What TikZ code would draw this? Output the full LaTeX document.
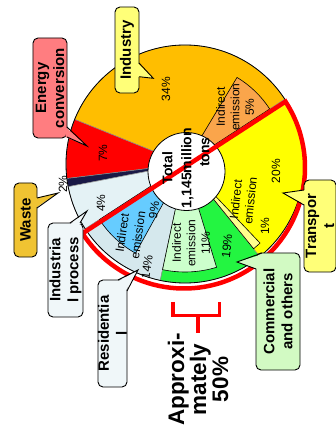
\documentclass[tikz,border=0pt]{standalone}
\usepackage{fontspec}
\setmainfont{Liberation Sans}
\usetikzlibrary{calc}
\definecolor{indOrange}{RGB}{255,190,0}
\definecolor{enRed}{RGB}{255,0,0}
\definecolor{wNavy}{RGB}{25,25,70}
\definecolor{procLight}{RGB}{228,242,245}
\definecolor{resBlue}{RGB}{213,232,237}
\definecolor{comGreen}{RGB}{35,245,65}
\definecolor{trYellow}{RGB}{255,255,0}
\definecolor{subOrange}{RGB}{250,165,75}
\definecolor{subBlue}{RGB}{102,204,255}
\definecolor{subGreen}{RGB}{204,255,204}
\definecolor{subYellow}{RGB}{255,255,140}
\definecolor{calYellow}{RGB}{255,255,120}
\definecolor{calPink}{RGB}{255,125,128}
\definecolor{calGold}{RGB}{240,195,50}
\definecolor{calPale}{RGB}{240,247,249}
\definecolor{calGreen}{RGB}{210,250,195}
\begin{document}
\begin{tikzpicture}[x=1bp,y=1bp,
  seg/.style={draw=black!45, line width=0.5bp},
  sub/.style={draw=black, line width=0.6bp},
  pct/.style={font=\fontsize{12bp}{14.5bp}\selectfont, rotate=#1, align=center, inner sep=0pt},
  pct/.default=90,
  tag/.style={draw=black, line width=0.9bp, rounded corners=5bp, rotate=90, align=center,
    inner sep=0pt, font=\bfseries\fontsize{15bp}{18bp}\selectfont},
  ptr/.style={draw=black, line width=0.9bp, line join=miter},
  redline/.style={draw=enRed, line width=#1},
]
\useasboundingbox (0,0) rectangle (336,429);

% ---- main pie ----
\coordinate (C) at (185,265);
\path[seg, fill=indOrange] (C) -- ++(33:119) arc[start angle=33, end angle=158, radius=119] -- cycle;
\path[seg, fill=enRed] (C) -- ++(158:119) arc[start angle=158, end angle=187, radius=119] -- cycle;
\path[seg, fill=wNavy] (C) -- ++(187:119) arc[start angle=187, end angle=191, radius=119] -- cycle;
\path[seg, fill=procLight] (C) -- ++(191:119) arc[start angle=191, end angle=213, radius=119] -- cycle;
\path[seg, fill=resBlue] (C) -- ++(213:119) arc[start angle=213, end angle=258, radius=119] -- cycle;
\path[seg, fill=comGreen] (C) -- ++(258:119) arc[start angle=258, end angle=309, radius=119] -- cycle;
\path[seg, fill=trYellow] (C) -- ++(309:119) arc[start angle=309, end angle=393, radius=119] -- cycle;
\draw[black, line width=0.8bp] (C) circle[radius=119];

% ---- indirect emission shares ----
\path[sub, fill=subOrange] (C) -- ++(33:101) arc[start angle=33, end angle=59, radius=101] -- cycle;
\path[sub, fill=subBlue] (C) -- ++(213:102) arc[start angle=213, end angle=241, radius=102] -- cycle;
\path[sub, fill=subGreen] (C) -- ++(258:108) arc[start angle=258, end angle=287, radius=108] -- cycle;
\path[sub, fill=subYellow] (C) -- ++(309:109) arc[start angle=309, end angle=313.5, radius=109] -- cycle;

% ---- centre disc ----
\draw[fill=white, line width=0.8bp] (186.5,257.5) ellipse[x radius=38.5, y radius=39];

% ---- half outline ----
\coordinate (R0) at (184,261.5);
\draw[redline=4.5bp, line join=miter] ($(R0)+(213:121)$) -- ($(R0)+(33:121)$) arc[start angle=33, end angle=-147, radius=121] -- cycle;

% ---- total ----
\node[rotate=90, align=center, inner sep=0pt, font=\bfseries\fontsize{14bp}{19bp}\selectfont] (total) at (178,261) {Total\\1,145million};
\node[rotate=90, inner sep=0pt, font=\bfseries\fontsize{14bp}{19bp}\selectfont] (tons) at (205,277) {tons};

% ---- shares ----
\node[pct] (p34) at (166,340) {34\%};
\node[pct] (p7) at (103,276) {7\%};
\node[pct] (p2) at (63,245) {2\%};
\node[pct] (p4) at (101,226) {4\%};
\node[pct] (indI) at (235,322) {Indirect\\emission\\5\%};
\node[pct] (p20) at (276,258) {20\%};
\node[pct=84] (trI) at (243,229) {Indirect\\emission};
\node[pct] (p1) at (265,203) {1\%};
\node[pct=84] (p19) at (227,183) {19\%};
\node[pct] (comI) at (191,186) {Indirect\\emission\\11\%};
\node[pct=82] (p14) at (147,162) {14\%};
\node[pct=82, font=\fontsize{12bp}{16bp}\selectfont] (resI) at (130,195) {Indirect\\emission};
\node[pct=82] (p9) at (154,219) {9\%};

% ---- callouts ----
\node[tag, fill=calYellow, minimum width=86bp, minimum height=24bp] (industry) at (127,379) {Industry};
\fill[calYellow] (137.5,366) -- (153.3,350.7) -- (137.5,352.3) -- cycle;
\draw[ptr] (139,366) -- (153.3,350.7) -- (139,352.3);

\node[tag, fill=calPink, minimum width=100bp, minimum height=34bp] (energy) at (50,341) {Energy\\conversion};
\fill[calPink] (65.5,302) -- (87,283) -- (65.5,292) -- cycle;
\draw[ptr] (67,302) -- (87,283) -- (67,292);

\node[tag, fill=calGold, minimum width=74bp, minimum height=23bp] (waste) at (25.5,209) {Waste};
\fill[calGold] (35.5,231) -- (58,236) -- (35.5,221) -- cycle;
\draw[ptr] (37,231) -- (58,236) -- (37,221);

\node[tag, fill=calPale, minimum width=94bp, minimum height=35bp] (proc) at (65.5,159) {Industria\\l process};
\fill[calPale] (70,204.5) -- (87,218) -- (80,204.5) -- cycle;
\draw[ptr] (70,206) -- (87,218) -- (80,206);

\node[tag, fill=calPale, minimum width=107bp, minimum height=29bp] (resid) at (112.5,95.5) {Residentia\\l};
\fill[calPale] (118,147.5) -- (138,159) -- (125.5,138) -- cycle;
\draw[ptr] (118,149) -- (138,159) -- (127,138);

\node[tag, fill=calGreen, minimum width=117bp, minimum height=44bp] (comm) at (278,117.5) {Commercial\\and others};
\fill[calGreen] (257.5,160) -- (237,167) -- (262,174.5) -- cycle;
\draw[ptr] (256,160) -- (237,167) -- (262,176);

\node[tag, fill=calYellow, minimum width=92bp, minimum height=32bp] (trans) at (320,203) {Transpor\\t};
\fill[calYellow] (305.5,239) -- (283,236) -- (305.5,224) -- cycle;
\draw[ptr] (304,239) -- (283,236) -- (304,224);

% ---- bracket ----
\coordinate (bL) at (173,127);
\coordinate (bLb) at (173,113.5);
\coordinate (bRb) at (219.5,113.5);
\coordinate (bR) at (219.5,127);
\coordinate (bM) at (198,113.5);
\coordinate (bS) at (198,96);
\draw[redline=3.5bp] (bL) -- (bLb) -- (bRb) -- (bR);
\draw[redline=3.5bp] (bM) -- (bS);
\node[rotate=90, align=center, inner sep=0pt, font=\bfseries\fontsize{22.5bp}{22bp}\selectfont] (approx) at (198,49.5) {Approxi-\\mately\\50\%};
\end{tikzpicture}
\end{document}
